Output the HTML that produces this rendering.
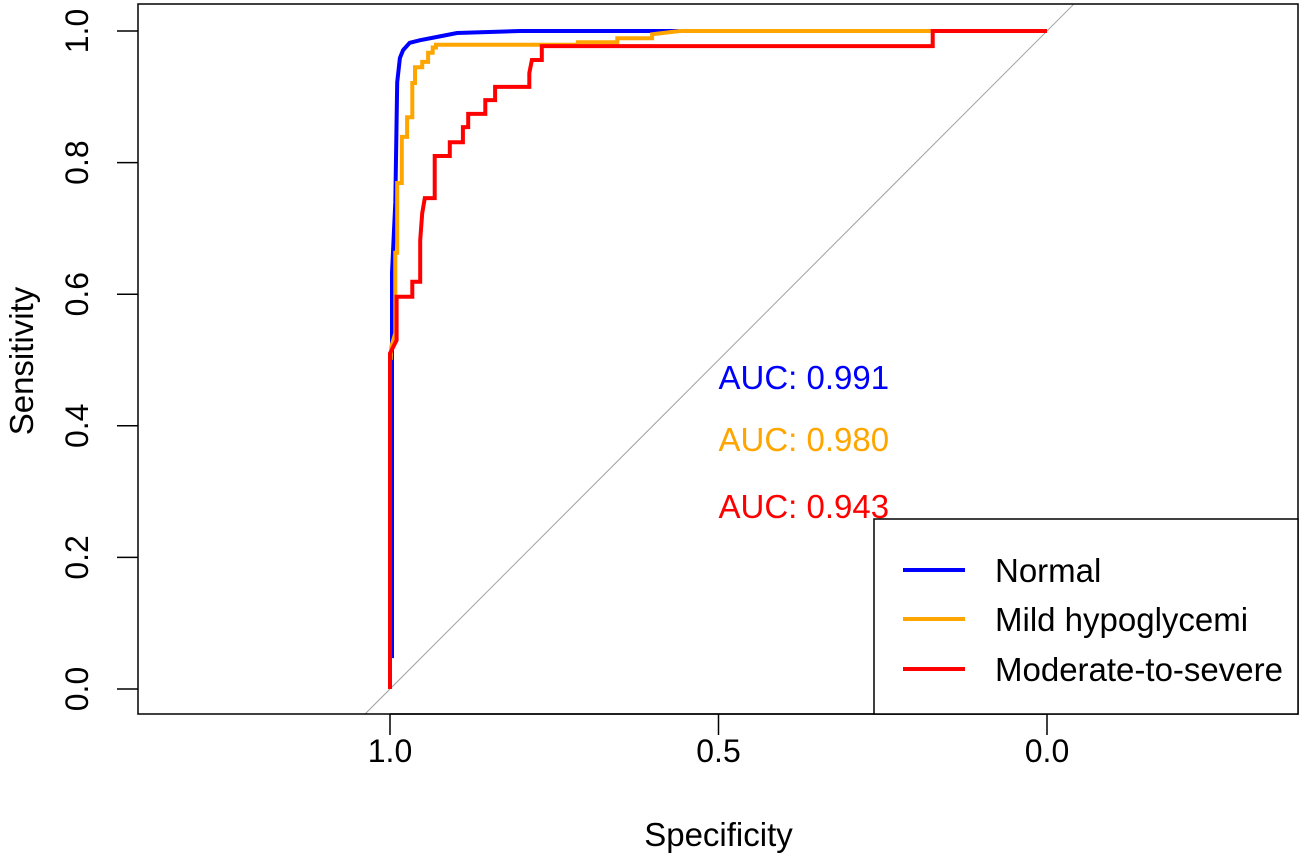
<!DOCTYPE html>
<html><head><meta charset="utf-8"><style>
html,body{margin:0;padding:0;background:#fff}
svg{display:block;font-family:"Liberation Sans",sans-serif}
</style></head><body>
<svg id="chart" width="1309" height="865" viewBox="0 0 1309 865">
</svg>
<script>
const xTicks=[1.0,0.5,0.0];
const xTickLabels=["1.0","0.5","0.0"];
const yTicks=[0,0.2,0.4,0.6,0.8,1.0];
const yTickLabels=["0.0","0.2","0.4","0.6","0.8","1.0"];
const seriesNames=["Normal","Mild hypoglycemi","Moderate-to-severe"];
const seriesColors=["#0000ff","#ffa500","#ff0000"];
const aucValues=["0.991","0.980","0.943"];
const normalSpec=[0.997,0.997,0.992,0.989,0.985,0.980,0.970,0.954,0.928,0.898,0.802,0];
const normalSens=[0.047,0.632,0.739,0.922,0.959,0.971,0.982,0.986,0.991,0.997,1,1];
const mildSpec=[0.999,0.998,0.992,0.992,0.989,0.989,0.982,0.982,0.974,0.974,0.966,0.966,0.962,0.962,0.951,0.951,0.942,0.942,0.935,0.935,0.930,0.930,0.714,0.714,0.654,0.654,0.601,0.601,0.559,0];
const mildSens=[0.5,0.52,0.541,0.663,0.663,0.769,0.769,0.839,0.839,0.869,0.869,0.921,0.921,0.945,0.945,0.953,0.953,0.967,0.967,0.975,0.975,0.979,0.979,0.983,0.983,0.989,0.989,0.995,1,1];
const modSpec=[1,1,0.99,0.99,0.966,0.966,0.954,0.954,0.951,0.947,0.932,0.932,0.909,0.909,0.889,0.889,0.881,0.881,0.855,0.855,0.840,0.840,0.788,0.788,0.784,0.769,0.769,0.174,0.174,0];
const modSens=[0,0.51,0.53,0.596,0.596,0.619,0.619,0.682,0.723,0.746,0.746,0.81,0.81,0.831,0.831,0.854,0.854,0.874,0.874,0.895,0.895,0.915,0.915,0.936,0.956,0.956,0.977,0.977,1,1];

const NS="http://www.w3.org/2000/svg";
const svg=document.getElementById('chart');
const L=138,R=1298,T=4,B=714;
const sx=v=>1047-v*657;
const sy=v=>689-v*658;
function mk(tag,attrs,parent){const e=document.createElementNS(NS,tag);for(const k in attrs)e.setAttribute(k,attrs[k]);(parent||svg).appendChild(e);return e;}

const defs=mk('defs',{});
const cp=mk('clipPath',{id:'clip'},defs);
mk('rect',{x:L,y:T,width:R-L,height:B-T},cp);

const diag=mk('line',{x1:sx(1.04),y1:sy(-0.04),x2:sx(-0.04),y2:sy(1.04),stroke:'#a0a0a0','stroke-width':1,'clip-path':'url(#clip)'});



const specs=[normalSpec,mildSpec,modSpec];
const sens=[normalSens,mildSens,modSens];
const curveNames=['roc-curve-normal','roc-curve-mild','roc-curve-moderate-severe'];
for(let s=0;s<3;s++){
  const pts=specs[s].map((v,i)=>sx(v).toFixed(1)+','+sy(sens[s][i]).toFixed(1)).join(' ');
  const p=mk('polyline',{points:pts,fill:'none',stroke:seriesColors[s],'stroke-width':4,'stroke-linejoin':'miter'});
  
  
}

const box=mk('rect',{x:L,y:T,width:R-L,height:B-T,fill:'none',stroke:'#000','stroke-width':1.5});



const ya=mk('g',{});


yTicks.forEach((v,i)=>{
  mk('line',{x1:117,x2:L,y1:sy(v),y2:sy(v),stroke:'#000','stroke-width':1.5},ya);
  const t=mk('text',{x:0,y:0,transform:`translate(88,${sy(v)}) rotate(-90)`,'text-anchor':'middle','font-size':32},ya);
  t.textContent=yTickLabels[i];
  
  
});
const xa=mk('g',{});


mk('line',{x1:sx(1),x2:sx(0),y1:B,y2:B,stroke:'#000','stroke-width':1.5},xa);
xTicks.forEach((v,i)=>{
  mk('line',{x1:sx(v),x2:sx(v),y1:B,y2:735,stroke:'#000','stroke-width':1.5},xa);
  const t=mk('text',{x:sx(v),y:762,'text-anchor':'middle','font-size':32},xa);
  t.textContent=xTickLabels[i];
  
  
});
const xt=mk('text',{x:sx(0.5),y:846,'text-anchor':'middle','font-size':33});
xt.textContent='Specificity';


const yt=mk('text',{x:0,y:0,transform:'translate(33,361) rotate(-90)','text-anchor':'middle','font-size':33});
yt.textContent='Sensitivity';



const aucY=[389,451,518];
aucValues.forEach((a,i)=>{
  const t=mk('text',{x:sx(0.5),y:aucY[i],'font-size':33,fill:seriesColors[i]});
  t.textContent='AUC: '+a;
  
  
});

const lg=mk('g',{});


mk('rect',{x:874,y:519,width:424,height:195,fill:'#fff',stroke:'#000','stroke-width':1.5},lg);
const ly=[570,619,669];
seriesNames.forEach((n,i)=>{
  const g=mk('g',{},lg);
  
  
  mk('line',{x1:903,x2:965,y1:ly[i],y2:ly[i],stroke:seriesColors[i],'stroke-width':4},g);
  const t=mk('text',{x:995,y:ly[i]+12,'font-size':33},g);
  t.textContent=n;
});
</script>
</body></html>
